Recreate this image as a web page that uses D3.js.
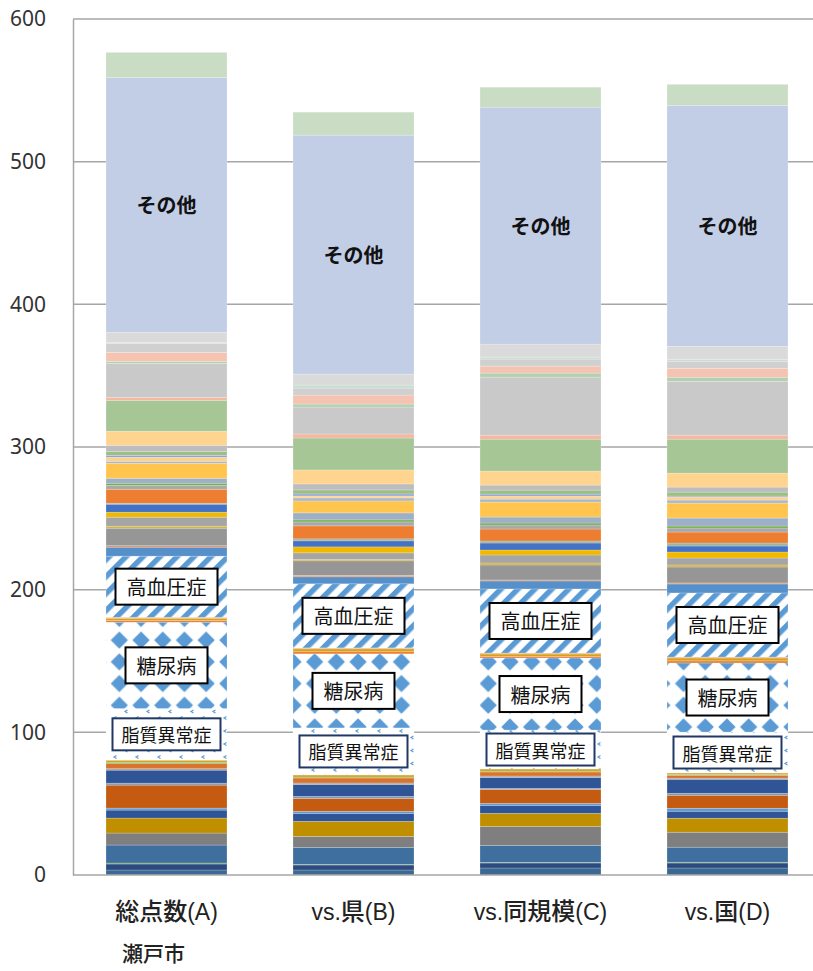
<!DOCTYPE html>
<html><head><meta charset="utf-8">
<script src="https://cdn.jsdelivr.net/npm/d3@7/dist/d3.min.js"></script>
<style>body{margin:0;background:#fff}</style>
</head><body><svg id="chart" width="813" height="971"></svg>
<script>
// ---- data ----
const categories = ["総点数(A)", "vs.県(B)", "vs.同規模(C)", "vs.国(D)"];
const subCaption = "瀬戸市";
const yTickValues = [0, 100, 200, 300, 400, 500, 600];

const seriesKeys = [
  "k01","k02","k03","k04","k05","k06","k07","k08","k09","k10","k11","k12","k13","k14","k15",
  "脂質異常症","糖尿病","k16","k17","k18","高血圧症",
  "k19","k20","k21","k22","k23","k24","k25","k26","k27","k28","k29","k30","k31","k32","k33","k34","k35","k36","k37","k38","k39","k40","k41","k42","k43","k44","k45",
  "その他","k46"
];
const seriesColors = [
  "#3C6894","#2A4A80","#6E9E5A","#3E6F9E","#7F7F7F","#BF8F00","#2F5597","#5B9BD5","#C55A11","#8497B0","#2F5597","#A5A5A5","#D9732E","#70AD47","#D6A21E",
  "pattern-lipid","pattern-diabetes","#ED7D31","#D6A21E","#F4B183","pattern-htn",
  "#5590CB","#E8925A","#969696","#D4B03C","#A5A5A5","#F2B800","#4472C4","#9DB4A0","#ED7D31","#A9A9A9","#70AD47","#9EB0C8","#FFC54F","#A9B8CC","#FFD28C","#8FA3D6","#9BBF85","#BDBDBD","#FFD48F","#A6C795","#F4B7A0","#C9C9C9","#B4D0B0","#F4C3B2","#D0D0D0","#C9DDD0","#DADADA",
  "#C2CDE6","#C9DCC4"
];
const valuesA = [3.5,4.2,0.7,12.6,8.4,10.5,5.6,1.4,16.1,1.4,9.1,1.0,3.5,1.0,1.5,
  36.2,60.5,1.2,1.6,0.7,42.8,
  6.3,1.0,12.3,1.4,6.3,3.5,5.6,0.7,9.8,2.8,1.4,3.5,10.5,1.4,2.8,1.4,2.8,4.2,9.8,21.7,2.1,23.8,1.4,6.3,6.3,0.7,7.0,
  178.7,17.6];
const valuesB = [3.5,3.5,0.5,11.9,7.7,10.5,5.6,1.4,9.1,1.4,8.4,1.0,3.5,0.6,1.5,
  33.0,51.9,1.5,2.0,0.7,44.9,
  4.9,1.0,10.2,1.0,4.6,4.2,4.2,1.4,9.1,2.8,1.4,4.9,8.4,2.1,1.4,1.4,2.8,4.2,9.8,22.4,2.8,18.9,2.1,6.3,4.9,2.1,7.7,
  167.5,16.1];
const valuesC = [4.9,3.5,0.5,11.9,13.3,9.1,5.6,1.4,9.8,0.7,7.7,1.0,2.8,0.6,1.5,
  27.3,50.5,1.2,1.6,0.7,44.9,
  5.6,0.7,10.5,1.4,5.6,3.5,4.9,1.4,8.4,2.8,1.4,4.2,10.5,2.1,2.1,1.4,2.8,3.5,9.8,22.4,2.8,40.7,2.8,4.9,4.9,1.4,9.1,
  166.1,14.0];
const valuesD = [4.9,3.5,0.6,10.5,10.5,9.8,4.9,2.1,9.1,1.4,9.8,0.8,2.0,0.6,1.0,
  28.7,48.4,1.5,2.0,0.7,44.9,
  6.3,0.7,11.2,1.4,4.9,4.2,4.2,2.1,7.7,2.8,1.4,5.6,10.5,2.1,2.1,0.7,2.8,3.5,9.8,23.8,2.8,37.8,2.8,6.3,4.9,1.4,9.1,
  168.9,14.7];
const labeledKeys = ["その他", "高血圧症", "糖尿病", "脂質異常症"];

// ---- build table ----
const valueSets = [valuesA, valuesB, valuesC, valuesD];
const table = categories.map((c, i) => {
  const row = { category: c };
  seriesKeys.forEach((k, j) => row[k] = valueSets[i][j]);
  return row;
});
const stacked = d3.stack().keys(seriesKeys)(table);

// ---- layout ----
const svg = d3.select("#chart");
const x = d3.scaleBand().domain(categories).range([73, 821]).paddingInner(0.353).paddingOuter(0.1765);
const y = d3.scaleLinear().domain([0, 600]).range([875, 19]);

// patterns
const defs = svg.append("defs");
const pblue = "#5B9BD5";
const pH = defs.append("pattern").attr("id", "pattern-htn").attr("patternUnits", "userSpaceOnUse")
  .attr("width", 12).attr("height", 12).attr("patternTransform", "rotate(45)");
pH.append("rect").attr("width", 12).attr("height", 12).attr("fill", "#fff");
pH.append("rect").attr("width", 5.5).attr("height", 12).attr("fill", pblue);

const pD = defs.append("pattern").attr("id", "pattern-diabetes").attr("patternUnits", "userSpaceOnUse")
  .attr("width", 21.7).attr("height", 21.7);
pD.append("rect").attr("width", 21.7).attr("height", 21.7).attr("fill", "#fff");
{
  const cx = 10.85, cy = 10.85, r = 8.6;
  pD.append("polygon").attr("points", `${cx},${cy - r} ${cx + r},${cy} ${cx},${cy + r} ${cx - r},${cy}`).attr("fill", pblue);
}

const pL = defs.append("pattern").attr("id", "pattern-lipid").attr("patternUnits", "userSpaceOnUse")
  .attr("width", 22).attr("height", 13);
pL.append("rect").attr("width", 22).attr("height", 13).attr("fill", "#fff");
[[5, 3], [16, 9.5]].forEach(([cx, cy]) => {
  pL.append("path").attr("d", `M${cx + 1.5},${cy - 1.5} L${cx - 1},${cy} L${cx + 1.5},${cy + 1.5}`)
    .attr("fill", "none").attr("stroke", pblue).attr("stroke-width", 1.2);
});

const fillOf = k => {
  const c = seriesColors[seriesKeys.indexOf(k)];
  return c.startsWith("pattern") ? `url(#${c})` : c;
};

// gridlines
svg.append("g").selectAll("line").data(yTickValues.filter(v => v > 0)).join("line")
  .attr("x1", 73).attr("x2", 813).attr("y1", d => y(d)).attr("y2", d => y(d))
  .attr("stroke", "#A6A6A6").attr("stroke-width", 1.5);

// bars
svg.append("g").selectAll("g").data(stacked).join("g")
  .attr("fill", d => fillOf(d.key))
  .selectAll("rect").data(d => d).join("rect")
  .attr("x", d => x(d.data.category))
  .attr("width", x.bandwidth())
  .attr("y", d => y(d[1]))
  .attr("height", d => y(d[0]) - y(d[1]))
  .attr("stroke", "rgba(255,255,255,0.35)").attr("stroke-width", 0.6);

// axes
const yAxis = d3.axisLeft(y).tickValues(yTickValues).tickSize(0).tickPadding(0);
const gy = svg.append("g").attr("transform", "translate(73,0)").call(yAxis);
gy.select(".domain").attr("stroke", "#A6A6A6").attr("stroke-width", 1.5);
gy.selectAll("text").attr("x", -27).attr("font-family", "'Noto Sans', sans-serif")
  .attr("font-size", 21).attr("fill", "#333");

const xAxis = d3.axisBottom(x).tickSize(0).tickFormat("");
const gx = svg.append("g").attr("transform", "translate(0,875)").call(xAxis);
gx.select(".domain").attr("stroke", "#A6A6A6").attr("stroke-width", 1.5).attr("d", "M73,0H813");

// category labels with mixed fonts
const isCJK = ch => /[\u3000-\u9fff\uff00-\uffef]/.test(ch);
categories.forEach(c => {
  const t = svg.append("text").attr("x", x(c) + x.bandwidth() / 2).attr("y", 920)
    .attr("text-anchor", "middle").attr("fill", "#222");
  const runs = [];
  for (const ch of c) {
    const cj = isCJK(ch);
    if (runs.length && runs[runs.length - 1].cj === cj) runs[runs.length - 1].s += ch;
    else runs.push({ cj, s: ch });
  }
  runs.forEach(r => {
    t.append("tspan").text(r.s)
      .attr("font-family", r.cj ? "'Noto Sans CJK JP', sans-serif" : "'Liberation Sans', sans-serif")
      .attr("font-weight", r.cj ? 500 : 400)
      .attr("font-size", r.cj ? 24 : 23);
  });
});
svg.append("text").attr("x", 122).attr("y", 961).text(subCaption)
  .attr("font-family", "'Noto Sans CJK JP', sans-serif").attr("font-weight", 500)
  .attr("font-size", 21).attr("fill", "#222");

// segment labels
const labelStyle = {
  "その他": { size: 20, weight: 700, box: false },
  "高血圧症": { size: 20, weight: 400, box: true, stroke: "#000", h: 36, pad: 11 },
  "糖尿病": { size: 20, weight: 400, box: true, stroke: "#000", h: 36, pad: 11 },
  "脂質異常症": { size: 18, weight: 400, box: true, stroke: "#1F3864", h: 32, pad: 9 }
};
const gl = svg.append("g");
stacked.filter(s => labeledKeys.includes(s.key)).forEach(s => {
  const st = labelStyle[s.key];
  s.forEach(d => {
    const cx = x(d.data.category) + x.bandwidth() / 2;
    const cy = y((d[0] + d[1]) / 2);
    const g = gl.append("g");
    const rect = st.box ? g.append("rect") : null;
    const t = g.append("text").attr("x", cx).attr("y", cy).text(s.key)
      .attr("text-anchor", "middle").attr("dominant-baseline", "central")
      .attr("font-family", "'Noto Sans CJK JP', sans-serif")
      .attr("font-size", st.size).attr("font-weight", st.weight).attr("fill", "#111");
    if (rect) {
      const w = t.node().getComputedTextLength() + 2 * st.pad;
      rect.attr("x", cx - w / 2).attr("y", cy - st.h / 2).attr("width", w).attr("height", st.h)
        .attr("fill", "#fff").attr("stroke", st.stroke).attr("stroke-width", 2);
    }
  });
});
</script></body></html>
